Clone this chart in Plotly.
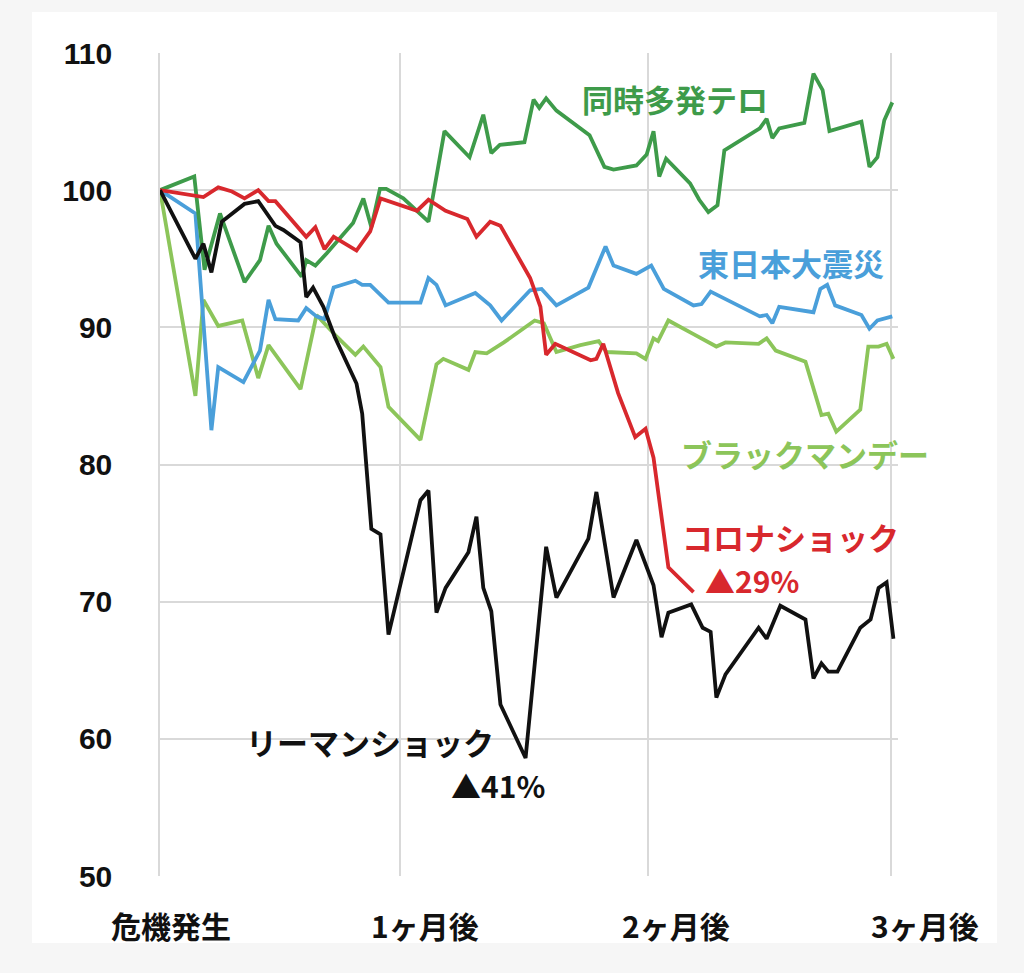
import plotly.graph_objects as go

# ---- data (trading days since crisis, index value) ----
terror_x = [0, 3.0, 3.9, 5.25, 7.4, 8.75, 9.5, 10.2, 12.4, 12.8, 13.6, 14.6, 16.9, 17.8, 18.5, 19.25, 19.8, 21.3, 23.5, 24.9, 27.1, 28.3, 29.0, 29.75, 31.9, 32.7, 33.2, 33.8, 34.7, 37.6, 38.9, 39.7, 41.7, 42.6, 43.2, 43.7, 44.3, 46.4, 47.2, 48.0, 48.8, 49.4, 52.5, 53.1, 53.6, 54.2, 56.4, 57.2, 58.0, 58.6, 61.4, 62.1, 62.8, 63.4, 64.1]
terror_y = [100, 101.0, 94.2, 98.3, 93.3, 94.9, 97.4, 96.1, 93.7, 94.9, 94.5, 95.4, 97.6, 99.4, 97.3, 100.1, 100.1, 99.4, 97.7, 104.3, 102.4, 105.5, 102.7, 103.3, 103.5, 106.6, 106.0, 106.7, 105.8, 104.0, 101.7, 101.5, 101.8, 102.6, 104.3, 101.0, 102.3, 100.5, 99.3, 98.4, 98.9, 102.9, 104.5, 105.2, 103.8, 104.5, 104.9, 108.5, 107.3, 104.3, 105.0, 101.7, 102.4, 105.1, 106.4]

quake_x = [0, 3.1, 4.5, 5.1, 7.3, 8.75, 9.5, 10.1, 12.1, 12.8, 13.7, 14.4, 15.2, 17.1, 17.7, 18.4, 20.0, 22.8, 23.5, 24.2, 25.0, 27.6, 28.9, 29.9, 32.4, 33.4, 34.7, 37.5, 39.0, 39.7, 41.7, 43.0, 44.1, 46.7, 47.4, 48.2, 52.5, 53.1, 53.6, 54.2, 57.2, 57.8, 58.4, 59.1, 61.4, 62.1, 62.8, 64.1]
quake_y = [100, 98.3, 82.5, 87.1, 86.0, 88.3, 92.0, 90.6, 90.5, 91.4, 90.8, 90.6, 92.9, 93.4, 93.1, 93.1, 91.8, 91.8, 93.6, 93.1, 91.6, 92.5, 91.6, 90.5, 92.7, 92.8, 91.6, 92.9, 95.9, 94.5, 93.9, 94.5, 92.8, 91.6, 91.7, 92.6, 90.8, 90.9, 90.3, 91.5, 91.1, 92.8, 93.1, 91.6, 90.9, 89.9, 90.5, 90.8]

monday_x = [0, 3.1, 3.8, 5.1, 7.2, 8.6, 9.5, 12.3, 13.7, 15.5, 17.1, 17.8, 19.3, 20.0, 22.8, 24.2, 24.8, 27.0, 27.6, 28.6, 30.1, 32.4, 32.8, 33.6, 34.7, 36.8, 38.4, 39.1, 41.7, 42.5, 43.2, 43.6, 44.5, 46.7, 48.7, 49.5, 52.4, 53.1, 53.9, 56.5, 57.9, 58.5, 59.2, 61.3, 62.0, 62.9, 63.6, 64.2]
monday_y = [100, 85.0, 92.0, 90.1, 90.5, 86.3, 88.7, 85.5, 90.9, 89.3, 88.0, 88.6, 87.1, 84.2, 81.8, 87.3, 87.7, 86.9, 88.2, 88.1, 88.9, 90.3, 90.5, 90.3, 88.2, 88.7, 89.0, 88.2, 88.1, 87.7, 89.2, 89.0, 90.5, 89.5, 88.6, 88.9, 88.8, 89.2, 88.3, 87.5, 83.6, 83.7, 82.4, 84.0, 88.6, 88.6, 88.8, 87.7]

corona_x = [0, 3.8, 5.1, 6.3, 7.4, 8.6, 9.5, 10.1, 12.8, 13.6, 14.4, 15.2, 17.2, 18.4, 19.3, 22.5, 23.5, 25.0, 26.9, 27.7, 28.9, 29.8, 32.4, 33.3, 33.8, 34.6, 37.7, 38.2, 38.8, 39.4, 40.1, 41.6, 42.5, 43.2, 44.5, 46.7]
corona_y = [100, 99.5, 100.2, 99.9, 99.4, 100.0, 99.2, 99.2, 96.6, 97.3, 95.7, 96.6, 95.6, 97.0, 99.4, 98.5, 99.3, 98.5, 97.9, 96.6, 97.7, 97.4, 93.6, 91.5, 88.0, 88.8, 87.6, 87.7, 88.8, 87.1, 85.2, 82.0, 82.6, 80.5, 72.5, 70.7]

lehman_x = [0, 3.1, 3.8, 4.5, 5.4, 7.4, 8.6, 10.1, 10.8, 12.3, 12.8, 13.4, 14.3, 15.3, 17.2, 17.7, 18.5, 19.3, 20.0, 22.8, 23.5, 24.2, 25.0, 27.0, 27.7, 28.3, 29.0, 29.8, 32.0, 33.8, 34.7, 37.5, 38.2, 39.7, 41.7, 43.2, 43.9, 44.5, 46.5, 47.5, 48.2, 48.7, 49.5, 52.4, 53.1, 54.3, 56.5, 57.2, 57.9, 58.5, 59.3, 61.3, 62.2, 62.9, 63.6, 64.2]
lehman_y = [100, 95.0, 96.1, 94.0, 97.7, 99.0, 99.2, 97.4, 97.1, 96.2, 92.2, 92.9, 91.5, 89.3, 85.9, 83.7, 75.3, 74.9, 67.6, 77.4, 78.1, 69.2, 71.0, 73.6, 76.2, 71.0, 69.3, 62.5, 58.6, 74.0, 70.3, 74.6, 78.0, 70.3, 74.5, 71.2, 67.4, 69.2, 69.8, 68.1, 67.8, 63.0, 64.7, 68.1, 67.3, 69.7, 68.7, 64.4, 65.5, 64.9, 64.9, 68.1, 68.7, 71.0, 71.4, 67.3]

tick_days = [0, 21, 42.7, 64]
tick_labels = ["危機発生", "1ヶ月後", "2ヶ月後", "3ヶ月後"]
y_ticks = [50, 60, 70, 80, 90, 100, 110]

C_TERROR = "#3E9B4A"
C_QUAKE = "#4A9FDA"
C_MONDAY = "#8CC55A"
C_CORONA = "#D8282D"
C_LEHMAN = "#111111"

fig = go.Figure()
series = [
    (monday_x, monday_y, C_MONDAY, "ブラックマンデー"),
    (quake_x, quake_y, C_QUAKE, "東日本大震災"),
    (terror_x, terror_y, C_TERROR, "同時多発テロ"),
    (corona_x, corona_y, C_CORONA, "コロナショック"),
    (lehman_x, lehman_y, C_LEHMAN, "リーマンショック"),
]
for xs, ys, col, name in series:
    fig.add_trace(go.Scatter(x=xs, y=ys, mode="lines", name=name,
                             line=dict(color=col, width=3.8), showlegend=False))

LABEL_FONT = "Noto Sans CJK JP"
labels = [
    ("同時多発テロ", 45.1, 106.7, C_TERROR, 31),
    ("東日本大震災", 55.2, 94.7, C_QUAKE, 31),
    ("ブラックマンデー", 56.5, 80.8, C_MONDAY, 31),
    ("コロナショック", 55.2, 74.75, C_CORONA, 31),
    ("▲29%", 51.8, 71.55, C_CORONA, 30),
    ("リーマンショック", 18.4, 59.8, C_LEHMAN, 31),
    ("▲41%", 29.6, 56.6, C_LEHMAN, 30),
]
for txt, lx, ly, col, fs in labels:
    fig.add_annotation(x=lx, y=ly, text=txt, showarrow=False, xanchor="center", yanchor="middle",
                       borderpad=0,
                       font=dict(family=LABEL_FONT, size=fs, color=col, weight="bold"))

x_shifts = [11, 25, 28, 34]
for d, t, s in zip(tick_days, tick_labels, x_shifts):
    fig.add_annotation(x=d, y=0, xref="x", yref="paper", yshift=-49, xshift=s, text=t,
                       showarrow=False, xanchor="center", yanchor="middle",
                       font=dict(family=LABEL_FONT, size=30, color="#111111", weight="bold"))

# white card on light gray page
fig.add_shape(type="rect", xref="paper", yref="paper", x0=-0.1734, x1=1.1341, y0=-0.0814, y1=1.0498,
              fillcolor="white", line=dict(width=0), layer="below")

fig.update_layout(
    width=1024, height=973,
    margin=dict(l=160, r=126, t=53, b=97),
    paper_bgcolor="#f6f6f6", plot_bgcolor="rgba(0,0,0,0)",
    showlegend=False,
)
fig.update_xaxes(range=[0, 64.6], tickvals=tick_days, ticktext=["", "", "", ""],
                 showgrid=True, gridcolor="#d9d9d9", gridwidth=1.5, zeroline=False,
                 showline=False, ticks="")
fig.update_yaxes(range=[50, 110], tickvals=y_ticks, showgrid=True, gridcolor="#d9d9d9", gridwidth=1.5,
                 zeroline=False, showline=True, linecolor="#d9d9d9", linewidth=1.5, ticks="",
                 ticklabelstandoff=40,
                 tickfont=dict(family="Liberation Sans", size=30, color="#111111", weight="bold"))

fig.write_html("out.html")
